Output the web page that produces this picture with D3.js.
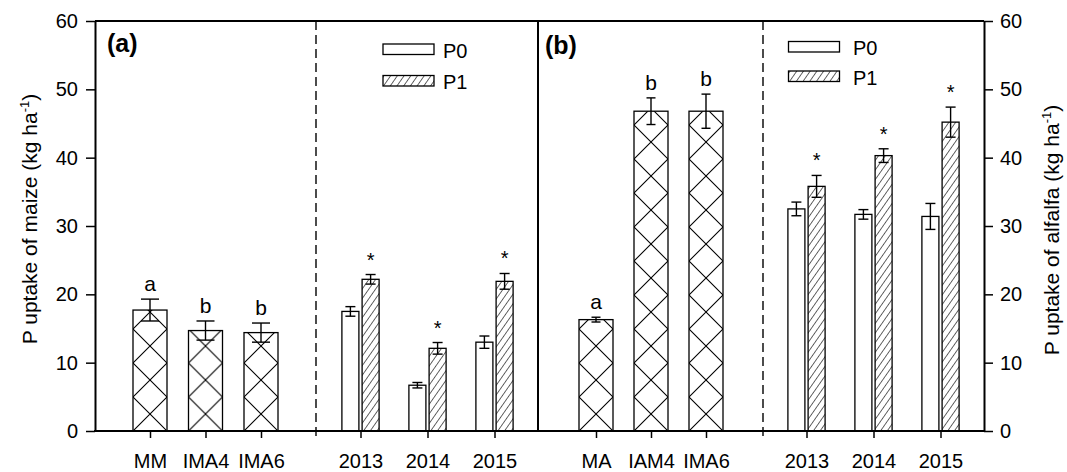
<!DOCTYPE html>
<html>
<head>
<meta charset="utf-8">
<script src="https://cdn.jsdelivr.net/npm/d3@7"></script>
<style>
  html, body { margin: 0; padding: 0; background: #fff; }
  svg { display: block; font-family: "Liberation Sans", Arial, sans-serif; }
</style>
</head>
<body>
<svg id="chart" width="1067" height="472"></svg>
<script>
// ---- data ----
const yTicks = [0, 10, 20, 30, 40, 50, 60];
const years = ["2013", "2014", "2015"];

const maizeTreat = ["MM", "IMA4", "IMA6"];
const maizeTreatVal = [17.7, 14.7, 14.4];
const maizeTreatErr = [1.6, 1.4, 1.4];
const maizeTreatLetter = ["a", "b", "b"];

const maizeP0 = [17.5, 6.7, 13.0];
const maizeP0Err = [0.7, 0.4, 0.9];
const maizeP1 = [22.2, 12.1, 21.9];
const maizeP1Err = [0.7, 0.85, 1.15];

const alfalfaTreat = ["MA", "IAM4", "IMA6"];
const alfalfaTreatVal = [16.3, 46.8, 46.8];
const alfalfaTreatErr = [0.35, 1.95, 2.5];
const alfalfaTreatLetter = ["a", "b", "b"];

const alfalfaP0 = [32.5, 31.7, 31.4];
const alfalfaP0Err = [1.0, 0.7, 1.9];
const alfalfaP1 = [35.8, 40.3, 45.2];
const alfalfaP1Err = [1.6, 1.0, 2.2];

const seriesNames = ["P0", "P1"];

// ---- layout ----
const svg = d3.select("#chart");
const X0 = 95, X1 = 984, Y0 = 431, Y1 = 21;
const FONT = 20;

const y = d3.scaleLinear().domain([0, 60]).range([Y0, Y1]);

const xA1 = d3.scalePoint().domain(maizeTreat).range([150, 261]);
const xA2 = d3.scalePoint().domain(years).range([360.5, 494.5]);
const xB1 = d3.scalePoint().domain(alfalfaTreat).range([596, 706]);
const xB2 = d3.scalePoint().domain(years).range([806.5, 940.5]);

const defs = svg.append("defs");
// diagonal hatch for P1
defs.append("pattern")
  .attr("id", "hatch")
  .attr("patternUnits", "userSpaceOnUse")
  .attr("width", 5.5).attr("height", 6)
  .attr("patternTransform", "rotate(35)")
  .call(p => {
    p.append("rect").attr("width", 5.5).attr("height", 6).attr("fill", "#fff");
    p.append("line").attr("x1", 0).attr("y1", 0).attr("x2", 0).attr("y2", 6)
      .attr("stroke", "#000").attr("stroke-width", 1.2);
  });

const g = svg.append("g");

// ---- treatment bars (crosshatch) ----
const TBW = 34;
function treatBars(cats, vals, errs, letters, xs, capW, tag) {
  const data = cats.map((c, i) => ({ c, v: vals[i], e: errs[i], l: letters[i], i }));
  data.forEach(d => {
    const x = xs(d.c) - TBW / 2;
    const p = defs.append("pattern")
      .attr("id", `xh-${tag}-${d.i}`)
      .attr("patternUnits", "userSpaceOnUse")
      .attr("x", x).attr("y", Y0)
      .attr("width", TBW).attr("height", TBW);
    p.append("rect").attr("width", TBW).attr("height", TBW).attr("fill", "#fff");
    p.append("path").attr("d", `M0,0L${TBW},${TBW}M${TBW},0L0,${TBW}`)
      .attr("stroke", "#000").attr("stroke-width", 1.1).attr("fill", "none");
  });
  const gg = g.append("g");
  gg.selectAll("rect").data(data).join("rect")
    .attr("x", d => xs(d.c) - TBW / 2)
    .attr("y", d => y(d.v))
    .attr("width", TBW)
    .attr("height", d => Y0 - y(d.v))
    .attr("fill", d => `url(#xh-${tag}-${d.i})`)
    .attr("stroke", "#000").attr("stroke-width", 1.3);
  errBars(gg, data.map(d => ({ x: xs(d.c), v: d.v, e: d.e })), capW);
  gg.selectAll("text.lbl").data(data).join("text")
    .attr("class", "lbl")
    .attr("x", d => xs(d.c))
    .attr("y", d => y(d.v + d.e) - 8)
    .attr("text-anchor", "middle")
    .attr("font-size", 21)
    .text(d => d.l);
}

function errBars(sel, pts, capW) {
  const eg = sel.append("g").attr("stroke", "#000").attr("stroke-width", 1.4);
  pts.forEach(p => {
    eg.append("line").attr("x1", p.x).attr("x2", p.x)
      .attr("y1", y(p.v + p.e)).attr("y2", y(p.v - p.e));
    eg.append("line").attr("x1", p.x - capW / 2).attr("x2", p.x + capW / 2)
      .attr("y1", y(p.v + p.e)).attr("y2", y(p.v + p.e));
    eg.append("line").attr("x1", p.x - capW / 2).attr("x2", p.x + capW / 2)
      .attr("y1", y(p.v - p.e)).attr("y2", y(p.v - p.e));
  });
}

// ---- year bars (P0 / P1) ----
const YBW = 17, YGAP = 1.6;
function yearBars(xs, p0, p0e, p1, p1e, capW) {
  const gg = g.append("g");
  const d0 = years.map((yr, i) => ({ x: xs(yr) - YGAP - YBW / 2, v: p0[i], e: p0e[i] }));
  const d1 = years.map((yr, i) => ({ x: xs(yr) + YGAP + YBW / 2, v: p1[i], e: p1e[i] }));
  gg.selectAll("rect.p0").data(d0).join("rect").attr("class", "p0")
    .attr("x", d => d.x - YBW / 2).attr("y", d => y(d.v))
    .attr("width", YBW).attr("height", d => Y0 - y(d.v))
    .attr("fill", "#fff").attr("stroke", "#000").attr("stroke-width", 1.3);
  gg.selectAll("rect.p1").data(d1).join("rect").attr("class", "p1")
    .attr("x", d => d.x - YBW / 2).attr("y", d => y(d.v))
    .attr("width", YBW).attr("height", d => Y0 - y(d.v))
    .attr("fill", "url(#hatch)").attr("stroke", "#000").attr("stroke-width", 1.3);
  errBars(gg, d0, capW);
  errBars(gg, d1, capW);
  gg.selectAll("text.star").data(d1).join("text").attr("class", "star")
    .attr("x", d => d.x).attr("y", d => y(d.v + d.e) - 8)
    .attr("text-anchor", "middle").attr("font-size", FONT)
    .text("*");
}

treatBars(maizeTreat, maizeTreatVal, maizeTreatErr, maizeTreatLetter, xA1, 18, "a");
yearBars(xA2, maizeP0, maizeP0Err, maizeP1, maizeP1Err, 10);
treatBars(alfalfaTreat, alfalfaTreatVal, alfalfaTreatErr, alfalfaTreatLetter, xB1, 9, "b");
yearBars(xB2, alfalfaP0, alfalfaP0Err, alfalfaP1, alfalfaP1Err, 10);

// ---- frame & dividers ----
const fr = svg.append("g").attr("stroke", "#000");
fr.append("line").attr("x1", X0).attr("x2", X1).attr("y1", Y1).attr("y2", Y1).attr("stroke-width", 2);
fr.append("line").attr("x1", X0 - 1).attr("x2", X1 + 1).attr("y1", Y0).attr("y2", Y0).attr("stroke-width", 2);
fr.append("line").attr("x1", 538).attr("x2", 538).attr("y1", Y1).attr("y2", Y0).attr("stroke-width", 2);
[316, 763].forEach(xx => {
  fr.append("line").attr("x1", xx).attr("x2", xx).attr("y1", Y1).attr("y2", Y0 + 7)
    .attr("stroke-width", 1.4).attr("stroke-dasharray", "9,5");
});

// ---- y axes ----
function styleAxis(sel) {
  sel.select(".domain").attr("stroke-width", 2).attr("stroke", "#000");
  sel.selectAll(".tick line").attr("stroke-width", 1.5).attr("stroke", "#000");
  sel.selectAll(".tick text").attr("font-size", FONT).attr("fill", "#000")
    .attr("font-family", "Liberation Sans, Arial, sans-serif");
}
svg.append("g").attr("transform", `translate(${X0},0)`)
  .call(d3.axisLeft(y).tickValues(yTicks).tickSize(9).tickSizeOuter(0).tickPadding(8))
  .call(styleAxis);
svg.append("g").attr("transform", `translate(${X1},0)`)
  .call(d3.axisRight(y).tickValues(yTicks).tickSize(9).tickSizeOuter(0).tickPadding(7))
  .call(styleAxis);

// ---- x axes ----
[xA1, xA2, xB1, xB2].forEach(sc => {
  const ax = svg.append("g").attr("transform", `translate(0,${Y0})`)
    .call(d3.axisBottom(sc).tickSize(7).tickSizeOuter(0));
  ax.select(".domain").remove();
  ax.selectAll(".tick line").attr("stroke", "#000").attr("stroke-width", 1.5);
  ax.selectAll(".tick text").attr("font-size", FONT).attr("fill", "#000")
    .attr("font-family", "Liberation Sans, Arial, sans-serif")
    .attr("y", 36.5).attr("dy", 0);
});

// ---- axis titles ----
function yTitle(x, yc, txt) {
  const t = svg.append("text")
    .attr("transform", `translate(${x},${yc}) rotate(-90)`)
    .attr("text-anchor", "middle").attr("font-size", 21).attr("fill", "#000");
  t.append("tspan").text(txt + " (kg ha");
  t.append("tspan").attr("font-size", 13).attr("dy", -8).text("-1");
  t.append("tspan").attr("dy", 8).text(")");
}
yTitle(37, 219, "P uptake of maize");
yTitle(1059, 230, "P uptake of alfalfa");

// ---- panel labels ----
svg.append("text").attr("x", 107).attr("y", 52).attr("font-size", 25).attr("font-weight", "bold").text("(a)");
svg.append("text").attr("x", 545).attr("y", 54).attr("font-size", 25).attr("font-weight", "bold").text("(b)");

// ---- legends ----
function legend(x, y0, gapY, textX) {
  const lg = svg.append("g");
  seriesNames.forEach((nm, i) => {
    const yy = y0 + i * gapY;
    lg.append("rect").attr("x", x).attr("y", yy).attr("width", 51).attr("height", 10.5)
      .attr("fill", i === 0 ? "#fff" : "url(#hatch)")
      .attr("stroke", "#000").attr("stroke-width", 1.3);
    lg.append("text").attr("x", textX).attr("y", yy + 13.5)
      .attr("font-size", FONT).text(nm);
  });
}
legend(383, 44, 31.5, 443);
legend(788.5, 41.5, 29.5, 853);
</script>
</body>
</html>
